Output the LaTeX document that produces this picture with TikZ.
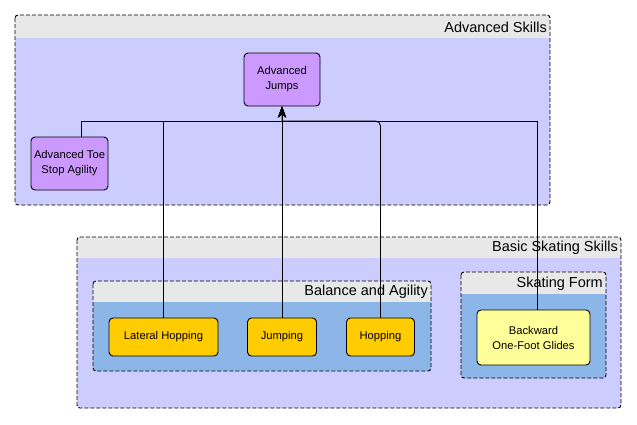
\documentclass[tikz,border=0pt]{standalone}
\usepackage{fontspec}
\setmainfont{Liberation Sans}
\usetikzlibrary{arrows.meta}
\definecolor{lav}{HTML}{CCCCFF}
\definecolor{headgray}{HTML}{E8E8E8}
\definecolor{innerblue}{HTML}{8DB6E8}
\definecolor{purp}{HTML}{CC99FF}
\definecolor{orng}{HTML}{FFCC00}
\definecolor{yell}{HTML}{FFFF99}
\tikzset{
  box/.style={draw=black, line width=0.9pt, rounded corners=4pt, align=center,
    font=\fontsize{11.2}{15}\selectfont, inner sep=2pt},
  purpbox/.style={box, fill=purp},
  orbox/.style={box, fill=orng},
  yelbox/.style={box, fill=yell},
  heading/.style={anchor=east, font=\fontsize{14.5}{17}\selectfont, inner sep=1pt},
  border/.style={draw=black, line width=0.9pt, dash pattern=on 4pt off 2pt, rounded corners=3pt},
  conn/.style={draw=black, line width=0.9pt, -{Stealth[length=11pt,width=8pt,inset=3pt]}},
}
\begin{document}
\begin{tikzpicture}[x=1pt,y=-1pt]
\useasboundingbox (0,0) rectangle (637,424);
% Advanced Skills container
\fill[lav, rounded corners=3pt] (15,15) rectangle (550,205);
\begin{scope}\clip[rounded corners=3pt] (15,15) rectangle (550,205);
\fill[headgray] (15,15) rectangle (550,38);\end{scope}
\path[border] (15,15) rectangle (550,205);
\node[heading] (advlbl) at (548,27) {Advanced Skills};
% Basic Skating Skills container
\fill[lav, rounded corners=3pt] (77,237) rectangle (621,408);
\begin{scope}\clip[rounded corners=3pt] (77,237) rectangle (621,408);
\fill[headgray] (77,237) rectangle (621,258);\end{scope}
\path[border] (77,237) rectangle (621,408);
\node[heading] (basiclbl) at (619,248) {Basic Skating Skills};
% Balance and Agility
\fill[innerblue, rounded corners=3pt] (93,281) rectangle (431,371);
\begin{scope}\clip[rounded corners=3pt] (93,281) rectangle (431,371);
\fill[headgray] (93,281) rectangle (431,302);\end{scope}
\path[border] (93,281) rectangle (431,371);
\node[heading] (ballbl) at (429,292) {Balance and Agility};
% Skating Form
\fill[innerblue, rounded corners=3pt] (461,272) rectangle (606,378);
\begin{scope}\clip[rounded corners=3pt] (461,272) rectangle (606,378);
\fill[headgray] (461,272) rectangle (606,294);\end{scope}
\path[border] (461,272) rectangle (606,378);
\node[heading] (formlbl) at (604,284) {Skating Form};
% nodes
\node[purpbox, minimum width=76pt, minimum height=53pt] (aj) at (282,79.5) {Advanced\\Jumps};
\node[purpbox, minimum width=77pt, minimum height=53pt] (toe) at (69.5,163.5) {Advanced Toe\\Stop Agility};
\node[orbox, minimum width=109pt, minimum height=38pt] (lat) at (163.5,337) {Lateral Hopping};
\node[orbox, minimum width=69pt, minimum height=38pt] (jmp) at (282,337) {Jumping};
\node[orbox, minimum width=68pt, minimum height=38pt] (hop) at (380.5,337) {Hopping};
\node[yelbox, minimum width=113pt, minimum height=55pt] (bk) at (533.5,337.5) {Backward\\One-Foot Glides};
% connectors
\coordinate (bus) at (0,121);
\draw[conn] ([xshift=11.5pt]toe.north) |- (bus -| aj.south) -- (aj.south);
\draw[conn] (lat.north) |- (bus -| aj.south) -- (aj.south);
\draw[conn] (jmp.north) -- (aj.south);
\draw[conn] (hop.north) [rounded corners=5pt] -- (hop.north |- bus) [sharp corners] -- (bus -| aj.south) -- (aj.south);
\draw[conn] ([xshift=3.5pt]bk.north) |- (bus -| aj.south) -- (aj.south);
\end{tikzpicture}
\end{document}
